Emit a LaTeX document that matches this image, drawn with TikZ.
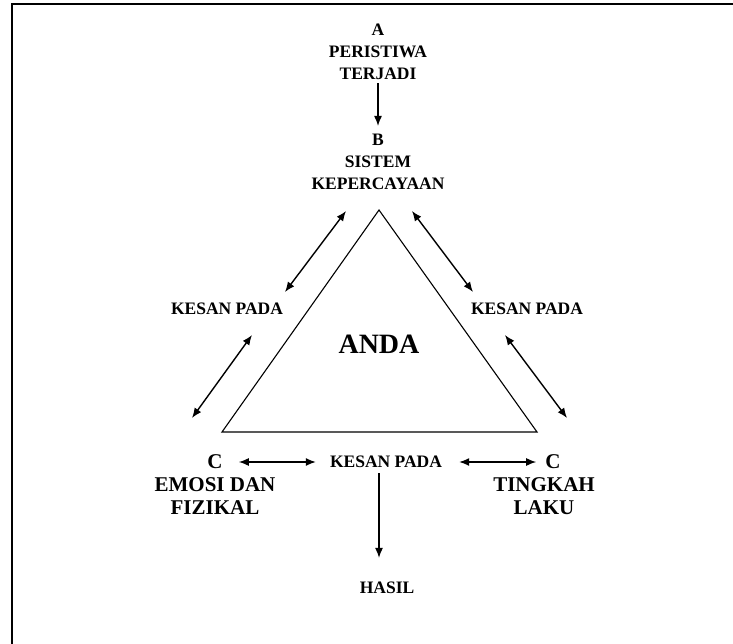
\documentclass[tikz,border=0pt]{standalone}
\usepackage{fontspec}
\setmainfont{Liberation Serif}
\usetikzlibrary{arrows.meta}
\tikzset{>={Latex[length=10pt,width=8pt]}}
\tikzstyle{txt}=[font=\bfseries\fontsize{17.5}{22}\selectfont,align=center,inner sep=0pt]
\tikzstyle{ctxt}=[font=\bfseries\fontsize{21}{23}\selectfont,align=center,inner sep=0pt]
\tikzstyle{link}=[<->,line width=1.4pt]

\begin{document}
\begin{tikzpicture}[x=1pt,y=-1pt]
  \useasboundingbox (0,0) rectangle (733,644);
  \draw[line width=2.5pt] (12,644) -- (12,4) -- (733,4);
  % A dan B
  \node[txt] (peristiwa) at (378,52) {A\\PERISTIWA\\TERJADI};
  \node[txt] (sistem) at (378,162) {B\\SISTEM\\KEPERCAYAAN};
  \draw[->,line width=1.4pt,shorten <=3pt,shorten >=8pt] (peristiwa) -- (sistem);
  % segitiga
  \coordinate (top) at (379,210);
  \coordinate (bl) at (222,432);
  \coordinate (br) at (537,432);
  \draw[line width=1.1pt] (top) -- (bl) -- (br) -- cycle;
  \node[font=\bfseries\fontsize{28}{30}\selectfont] (anda) at (379,344) {ANDA};
  % kesan pada
  \node[txt] (kesankiri) at (227,309) {KESAN PADA};
  \node[txt] (kesankanan) at (527,309) {KESAN PADA};
  \node[txt] (kesanbawah) at (386,462) {KESAN PADA};
  \node[txt] (hasil) at (387,588) {HASIL};
  % C
  \node[ctxt] (cemosi) at (215,462) {C};
  \node[ctxt] (emosi) at (215,496) {EMOSI DAN\\FIZIKAL};
  \node[ctxt] (ctingkah) at (553,462) {C};
  \node[ctxt] (tingkah) at (544,496) {TINGKAH\\LAKU};
  % hujung anak panah
  \coordinate (kiri1) at (346,211);
  \coordinate (kiri2) at (285,292);
  \coordinate (kiri3) at (252,335);
  \coordinate (kiri4) at (192,418);
  \coordinate (kanan1) at (412,211);
  \coordinate (kanan2) at (473,292);
  \coordinate (kanan3) at (505,335);
  \coordinate (kanan4) at (567,418);
  \draw[link] (kiri1) -- (kiri2);
  \draw[link] (kiri3) -- (kiri4);
  \draw[link] (kanan1) -- (kanan2);
  \draw[link] (kanan3) -- (kanan4);
  \draw[link,shorten <=16pt,shorten >=14pt] (cemosi) -- (kesanbawah);
  \draw[link,shorten <=17pt,shorten >=9pt] (kesanbawah) -- (ctingkah);
  \draw[->,line width=1.4pt,shorten <=5pt,shorten >=24pt] (kesanbawah.south -| top) -- (hasil.north -| top);
\end{tikzpicture}
\end{document}
